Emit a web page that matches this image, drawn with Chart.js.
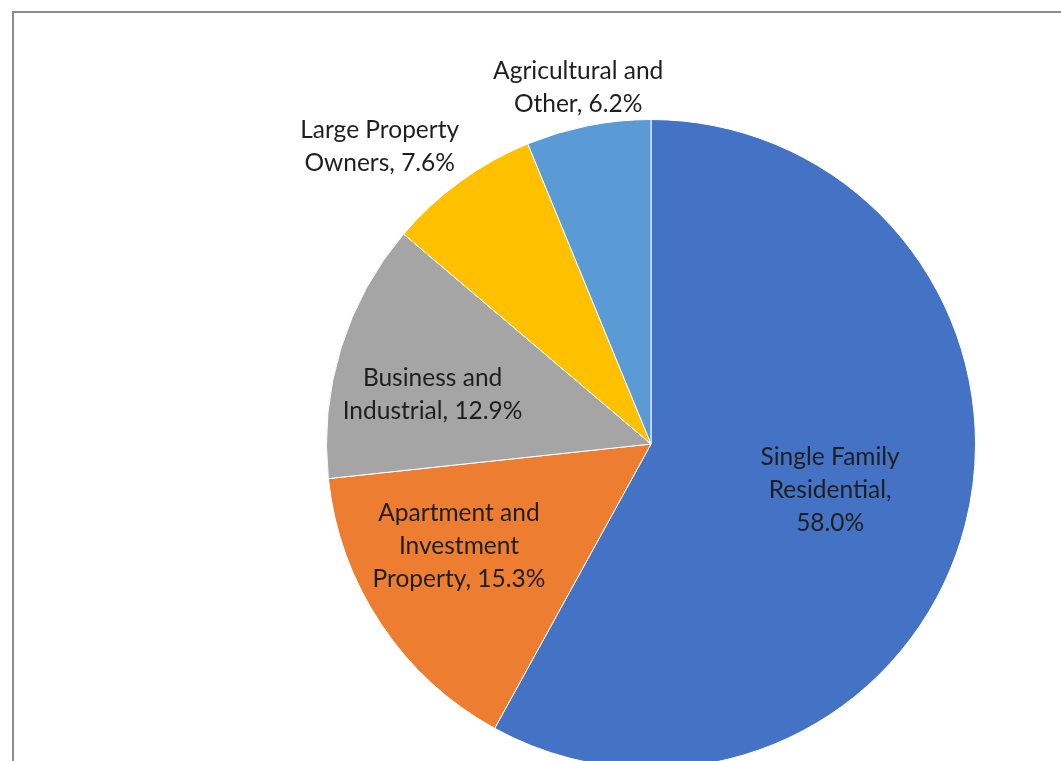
<!DOCTYPE html>
<html>
<head>
<meta charset="utf-8">
<script src="https://cdn.jsdelivr.net/npm/chart.js@4"></script>
<style>
  html, body { margin: 0; padding: 0; background: #fff; overflow: hidden; }
  #frame { position: absolute; left: 12px; top: 11px; width: 1200px; height: 900px; border-left: 2px solid #8c8c8c; border-top: 2px solid #8c8c8c; }
  #wrap { position: absolute; left: 0; top: 0; width: 1061px; height: 900px; }
</style>
</head>
<body>
<div id="frame"></div>
<div id="wrap"><canvas id="pieChart"></canvas></div>
<script>
// slice data, clockwise from 12 o'clock
const categories = [
    ['Single Family', 'Residential,'],
    ['Apartment and', 'Investment', 'Property,'],
    ['Business and', 'Industrial,'],
    ['Large Property', 'Owners,'],
    ['Agricultural and', 'Other,']
];
const shares = [58.0, 15.3, 12.9, 7.6, 6.2];
const sliceColors = ['#4472C4', '#ED7D31', '#A5A5A5', '#FFC000', '#5B9BD5'];

// label text: last line of the category joined with the percentage
function labelLines(i) {
    const lines = categories[i].slice();
    const pct = shares[i].toFixed(1) + '%';
    if (i === 0) { lines.push(pct); }
    else { lines[lines.length - 1] += ' ' + pct; }
    return lines;
}

// draws the data labels around each arc
const pieLabels = {
    id: 'pieLabels',
    afterDatasetsDraw(chart, args, opts) {
        const ctx = chart.ctx;
        const meta = chart.getDatasetMeta(0);
        ctx.save();
        ctx.font = opts.font;
        ctx.fillStyle = opts.color;
        ctx.textAlign = 'center';
        ctx.textBaseline = 'middle';
        meta.data.forEach((arc, i) => {
            const p = arc.getProps(['x', 'y', 'startAngle', 'endAngle', 'outerRadius'], true);
            const place = opts.place[i];
            const a = (p.startAngle + p.endAngle) / 2 + place[1] * Math.PI / 180;
            const r = p.outerRadius * place[0];
            const cx = p.x + Math.cos(a) * r;
            const cy = p.y + Math.sin(a) * r;
            const lines = labelLines(i);
            const h = opts.lineHeight;
            lines.forEach((t, k) => {
                ctx.fillText(t, cx, cy + (k - (lines.length - 1) / 2) * h);
            });
        });
        ctx.restore();
    }
};

new Chart(document.getElementById('pieChart'), {
    type: 'pie',
    data: {
        labels: categories.map(c => c.join(' ')),
        datasets: [{
            data: shares,
            backgroundColor: sliceColors,
            borderColor: '#ffffff',
            borderWidth: 1
        }]
    },
    options: {
        responsive: true,
        maintainAspectRatio: false,
        animation: false,
        layout: { padding: { left: 326, top: 119, right: 85, bottom: 131 } },
        plugins: {
            legend: { display: false },
            tooltip: { enabled: false },
            pieLabels: {
                font: '24.5px Lato',
                color: '#1e1e1e',
                lineHeight: 33,
                place: [[0.57, 0], [0.67, 5.7], [0.69, -4.4], [1.24, -6.4], [1.12, -0.4]]
            }
        }
    },
    plugins: [pieLabels]
});
</script>
</body>
</html>
